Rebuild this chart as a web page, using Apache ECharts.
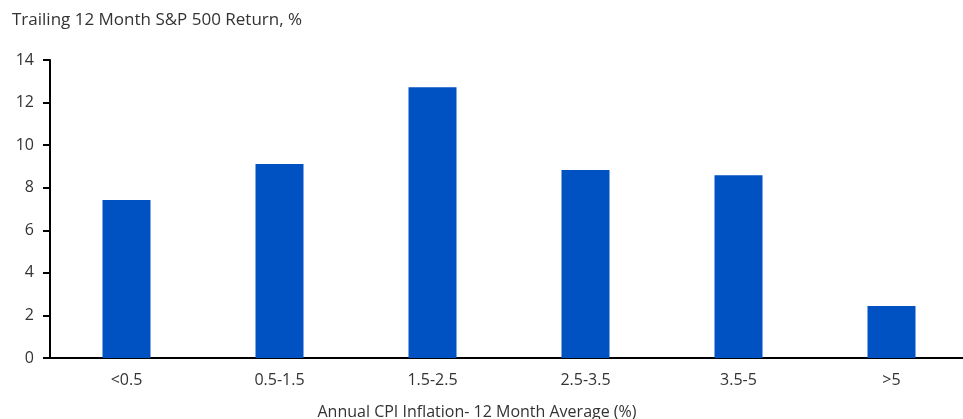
<!DOCTYPE html>
<html>
<head>
<meta charset="utf-8">
<script src="https://cdn.jsdelivr.net/npm/echarts@6/dist/echarts.min.js"></script>
<style>
  html, body { margin: 0; padding: 0; background: #fff; }
  #chart { width: 963px; height: 419px; }
</style>
</head>
<body>
<div id="chart"></div>
<script>
const categories = ["<0.5", "0.5-1.5", "1.5-2.5", "2.5-3.5", "3.5-5", ">5"];
const returns = [7.42, 9.11, 12.72, 8.83, 8.59, 2.44];
const yTicks = [0, 2, 4, 6, 8, 10, 12, 14];

const font = "Open Sans";
const textColor = "#333333";

const chart = echarts.init(document.getElementById("chart"));
chart.setOption({
  animation: false,
  textStyle: { fontFamily: font },
  title: {
    text: "Trailing 12 Month S&P 500 Return, %",
    left: 7,
    top: 7,
    textStyle: { fontFamily: font, fontSize: 17, fontWeight: "normal", color: textColor }
  },
  grid: { left: 50, top: 60, width: 918, height: 298, outerBoundsMode: "none" },
  xAxis: {
    type: "category",
    data: categories,
    name: "Annual CPI Inflation- 12 Month Average (%)",
    nameLocation: "middle",
    nameGap: 46,
    // the name sits a little left of the plot centre in the original
    nameTextStyle: { fontFamily: font, fontSize: 16, color: textColor, padding: [0, 64, 0, 0] },
    axisLine: { lineStyle: { color: "#000", width: 2 } },
    axisTick: { show: false },
    axisLabel: { fontFamily: font, fontSize: 16, color: textColor, margin: 14 }
  },
  yAxis: {
    type: "value",
    min: yTicks[0],
    max: yTicks[yTicks.length - 1],
    interval: 2,
    splitLine: { show: false },
    axisLine: { show: true, lineStyle: { color: "#000", width: 2 } },
    axisTick: { show: true, length: 7, lineStyle: { color: "#000", width: 2 } },
    axisLabel: { fontFamily: font, fontSize: 16, color: textColor, margin: 16 }
  },
  series: [{
    type: "bar",
    data: returns,
    barWidth: 48,
    itemStyle: { color: "#0052C3" }
  }]
});
</script>
</body>
</html>
